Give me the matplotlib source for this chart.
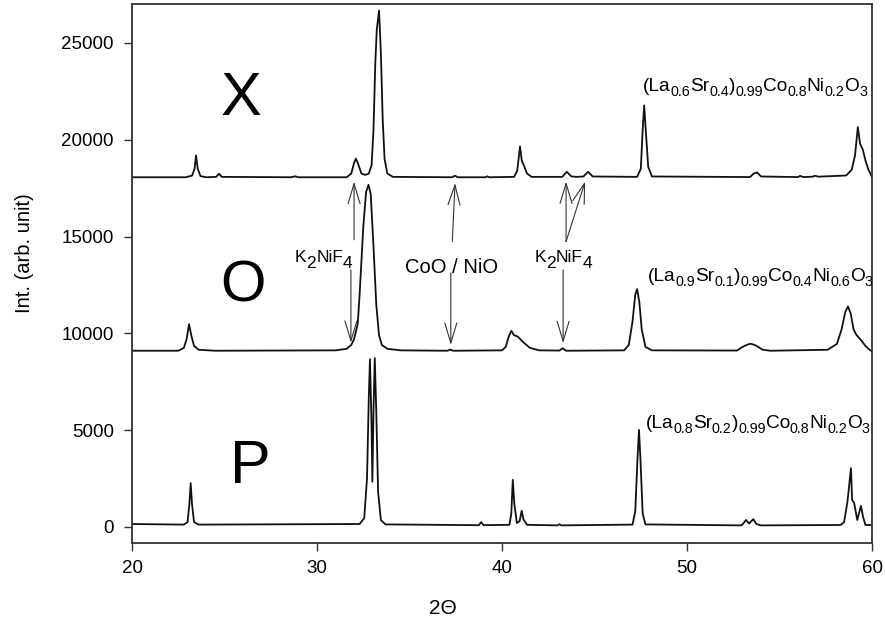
import numpy as np
import matplotlib
matplotlib.use('Agg')
import matplotlib.pyplot as plt

plt.rcParams['font.family'] = ['Liberation Sans', 'DejaVu Sans']

# --- XRD patterns: (2theta, intensity) ---
pattern_X = [
    (20.0, 18060), (22.9, 18060), (23.25, 18150), (23.38, 18500), (23.46, 19190),
    (23.55, 18500), (23.7, 18120), (24.0, 18060), (24.55, 18080), (24.7, 18240),
    (24.85, 18080), (28.6, 18060), (28.8, 18110), (29.0, 18060), (31.6, 18060),
    (31.85, 18250), (32.0, 18800), (32.1, 19020), (32.2, 18800), (32.4, 18250),
    (32.6, 18180), (32.8, 18250), (32.95, 18700), (33.05, 20500), (33.15, 24000),
    (33.23, 25700), (33.35, 26670), (33.45, 24500), (33.55, 21000), (33.65, 19000),
    (33.8, 18250), (34.1, 18080), (37.3, 18060), (37.46, 18140), (37.6, 18060),
    (39.1, 18060), (39.2, 18110), (39.3, 18060), (40.65, 18080), (40.82, 18400),
    (40.97, 19650), (41.07, 18900), (41.2, 18620), (41.35, 18250), (41.6, 18080),
    (43.25, 18080), (43.5, 18340), (43.75, 18100), (44.05, 18080), (44.4, 18100),
    (44.65, 18340), (44.9, 18100), (47.3, 18080), (47.5, 18500), (47.6, 20500),
    (47.68, 21770), (47.78, 20300), (47.9, 18600), (48.1, 18100), (53.4, 18070),
    (53.6, 18250), (53.78, 18310), (54.0, 18100), (56.0, 18070), (56.1, 18130),
    (56.3, 18070), (56.8, 18090), (56.9, 18140), (57.1, 18090), (58.6, 18150),
    (58.9, 18450), (59.08, 19200), (59.23, 20650), (59.35, 19800), (59.5, 19480),
    (59.65, 18900), (59.8, 18450), (60.0, 18070),
]
pattern_O = [
    (20.0, 9100), (22.5, 9100), (22.8, 9250), (22.95, 9700), (23.08, 10470),
    (23.2, 9900), (23.35, 9350), (23.6, 9150), (24.5, 9100), (31.0, 9120),
    (31.6, 9200), (31.85, 9400), (32.0, 9700), (32.2, 10500), (32.3, 12000),
    (32.5, 15500), (32.65, 17300), (32.78, 17670), (32.9, 17200), (33.05, 14500),
    (33.2, 11500), (33.35, 9900), (33.5, 9400), (33.8, 9200), (34.5, 9120),
    (37.05, 9100), (37.2, 9160), (37.35, 9100), (40.0, 9120), (40.2, 9300),
    (40.35, 9800), (40.5, 10130), (40.65, 9900), (40.85, 9830), (41.1, 9580),
    (41.5, 9250), (42.0, 9120), (43.1, 9110), (43.28, 9230), (43.45, 9100),
    (46.6, 9120), (46.85, 9400), (47.05, 10600), (47.2, 12000), (47.3, 12280),
    (47.42, 11600), (47.55, 10200), (47.75, 9300), (48.1, 9120), (52.7, 9110),
    (53.0, 9300), (53.3, 9430), (53.45, 9460), (53.7, 9380), (54.1, 9150),
    (54.5, 9100), (57.6, 9150), (58.1, 9450), (58.35, 10200), (58.55, 11100),
    (58.7, 11390), (58.85, 11000), (59.0, 10200), (59.15, 9920), (59.4, 9650),
    (59.6, 9400), (59.8, 9200), (60.0, 9060),
]
pattern_P = [
    (20.0, 150), (22.8, 120), (23.0, 250), (23.1, 1200), (23.17, 2260),
    (23.24, 1200), (23.35, 250), (23.6, 120), (32.3, 150), (32.55, 450),
    (32.7, 2500), (32.8, 6800), (32.86, 8660), (32.94, 5500), (32.99, 2340),
    (33.05, 6000), (33.12, 8720), (33.2, 6000), (33.3, 1800), (33.45, 350),
    (33.7, 130), (38.75, 90), (38.87, 250), (39.0, 90), (40.4, 110),
    (40.5, 700), (40.58, 2430), (40.66, 1200), (40.8, 200), (40.95, 300),
    (41.06, 840), (41.15, 400), (41.35, 110), (43.0, 80), (43.1, 140),
    (43.2, 80), (47.05, 120), (47.2, 800), (47.32, 3500), (47.4, 5010),
    (47.48, 3500), (47.6, 700), (47.75, 130), (52.95, 80), (53.1, 250),
    (53.19, 360), (53.35, 180), (53.58, 400), (53.75, 150), (54.0, 80),
    (58.3, 100), (58.49, 250), (58.67, 1310), (58.86, 3030), (58.92, 1400),
    (59.03, 1240), (59.2, 360), (59.4, 1085), (59.51, 530), (59.64, 100),
    (60.0, 100),
]

sample_names = ['X', 'O', 'P']
# (text, is_subscript)
formula_X = [('(La', 0), ('0.6', 1), ('Sr', 0), ('0.4', 1), (')', 0), ('0.99', 1),
             ('Co', 0), ('0.8', 1), ('Ni', 0), ('0.2', 1), ('O', 0), ('3', 1)]
formula_O = [('(La', 0), ('0.9', 1), ('Sr', 0), ('0.1', 1), (')', 0), ('0.99', 1),
             ('Co', 0), ('0.4', 1), ('Ni', 0), ('0.6', 1), ('O', 0), ('3', 1)]
formula_P = [('(La', 0), ('0.8', 1), ('Sr', 0), ('0.2', 1), (')', 0), ('0.99', 1),
             ('Co', 0), ('0.8', 1), ('Ni', 0), ('0.2', 1), ('O', 0), ('3', 1)]
k2nif4 = [('K', 0), ('2', 1), ('NiF', 0), ('4', 1)]
cono_label = 'CoO / NiO'

x_ticks = [20, 30, 40, 50, 60]
y_ticks = [0, 5000, 10000, 15000, 20000, 25000]


def chem_text(ax, x, y, pieces, size, sub_size, drop, clip=False):
    # lays pieces side by side, subscripts lowered by `drop` points
    renderer = ax.figure.canvas.get_renderer()
    dx = 0.0
    for txt, sub in pieces:
        t = ax.annotate(txt, xy=(x, y), xytext=(dx, -drop if sub else 0),
                        textcoords='offset points',
                        fontsize=sub_size if sub else size,
                        ha='left', va='baseline', annotation_clip=False,
                        clip_on=clip)
        dx += t.get_window_extent(renderer).width * 72.0 / ax.figure.dpi


def arrow(ax, tail, tip):
    ax.annotate('', xy=tip, xytext=tail,
                arrowprops=dict(arrowstyle='->,head_length=0.8,head_width=0.24',
                                mutation_scale=18, lw=0.8, color='#333333',
                                shrinkA=0, shrinkB=0))


fig = plt.figure(figsize=(8.85, 6.3), dpi=100)
ax = fig.add_axes([0.1492, 0.1381, 0.8362, 0.8556])

for pat in (pattern_X, pattern_O, pattern_P):
    tt, inten = np.array(pat).T
    ax.plot(tt, inten, color='#111111', lw=1.3)

ax.set_xlim(20, 60)
ax.set_ylim(-830, 27010)
ax.set_xticks(x_ticks)
ax.set_yticks(y_ticks)
ax.tick_params(direction='out', length=6, width=1.0, labelsize=13.5,
               color='#333333', top=False, right=False)
ax.tick_params(axis='y', pad=7)
ax.tick_params(axis='x', pad=6)
for sp in ax.spines.values():
    sp.set_color('#333333')
    sp.set_linewidth(1.3)

ax.set_ylabel('Int. (arb. unit)', fontsize=14.5)
ax.yaxis.set_label_coords(-0.133, 0.537)
ax.set_xlabel('2Θ', fontsize=15)
ax.xaxis.set_label_coords(0.42, -0.103)

# big sample letters
ax.text(25.89, 21290, sample_names[0], fontsize=44, ha='center', va='baseline')
ax.text(26.0, 11650, sample_names[1], fontsize=42, ha='center', va='baseline')
ax.text(26.38, 2270, sample_names[2], fontsize=44, ha='center', va='baseline')

# compositions, cut at the right frame
chem_text(ax, 47.6, 22530, formula_X, 13.8, 10.3, 3.5, clip=True)
chem_text(ax, 47.89, 12710, formula_O, 13.8, 10.3, 3.5, clip=True)
chem_text(ax, 47.75, 5115, formula_P, 13.8, 10.3, 3.5, clip=True)

# secondary phase markers
chem_text(ax, 28.81, 13690, k2nif4, 12.5, 12.5, 4.5)
chem_text(ax, 41.78, 13690, k2nif4, 12.5, 12.5, 4.5)
ax.text(37.27, 13140, cono_label, fontsize=14.5, ha='center', va='baseline')

arrow(ax, (32.0, 14830), (32.0, 17830))
arrow(ax, (31.83, 13280), (31.83, 9510))
arrow(ax, (37.31, 14740), (37.46, 17760))
arrow(ax, (37.23, 13125), (37.23, 9400))
arrow(ax, (43.46, 14740), (43.46, 17840))
arrow(ax, (43.46, 14740), (44.49, 17840))
arrow(ax, (43.30, 13280), (43.30, 9490))

fig.savefig('out.png', dpi=100)
